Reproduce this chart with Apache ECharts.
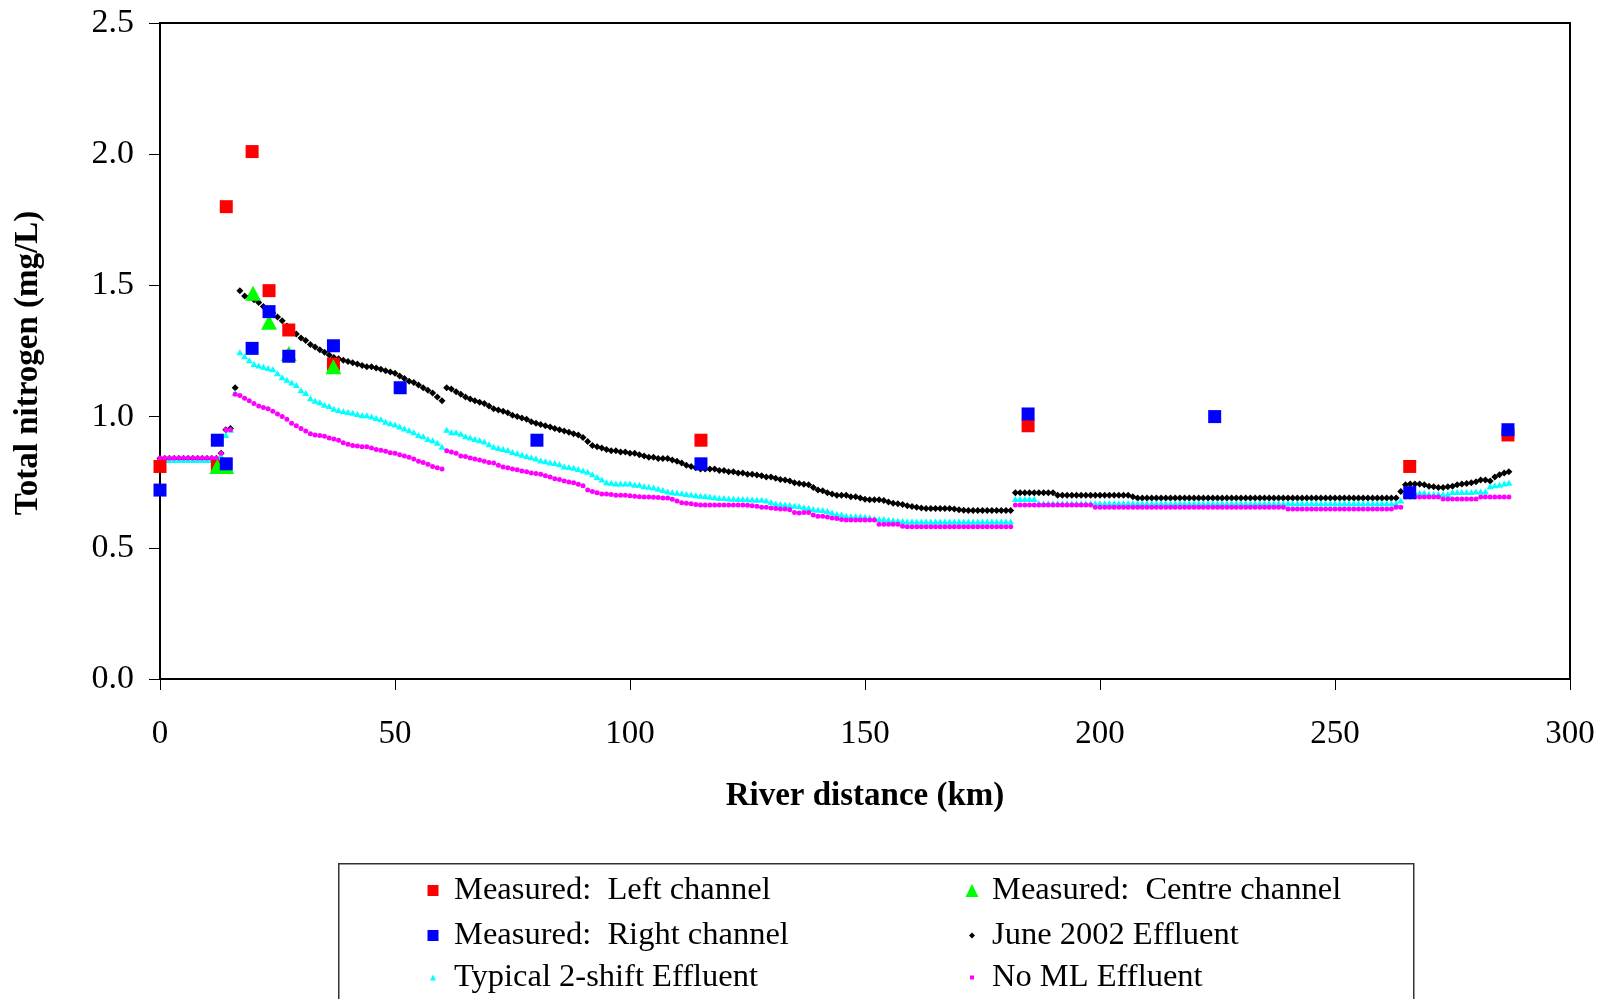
<!DOCTYPE html>
<html>
<head>
<meta charset="utf-8">
<script src="https://cdn.jsdelivr.net/npm/echarts@6/dist/echarts.min.js"></script>
<style>
html,body{margin:0;padding:0;background:#fff;}
#chart{width:1601px;height:999px;}
</style>
</head>
<body>
<div id="chart"></div>
<script>
// ---- Measured data (km, mg/L) ----
const leftKm   = [0, 12.2, 14.1, 19.6, 23.2, 27.4, 36.9, 115.1, 184.7, 265.9, 286.8];
const leftTN   = [0.81, 0.81, 1.80, 2.01, 1.48, 1.33, 1.20, 0.91, 0.965, 0.81, 0.93];
const centreKm = [12.2, 14.1, 19.8, 23.2, 27.4, 36.9];
const centreTN = [0.81, 0.81, 1.47, 1.36, 1.24, 1.19];
const rightKm  = [0, 12.2, 14.1, 19.6, 23.2, 27.4, 36.9, 51.1, 80.2, 115.1, 184.7, 224.4, 265.9, 286.8];
const rightTN  = [0.72, 0.91, 0.82, 1.26, 1.40, 1.23, 1.27, 1.11, 0.91, 0.82, 1.01, 1.00, 0.71, 0.95];

// ---- Model output distances (km) ----
const modelKm = [
0,1,2,3,4,5,6,7,8,9,
10,11,12,13,14,15,16,17,18,19,
20,21,22,23,24,25,26,27,28,29,
30,31,32,33,34,35,36,37,38,39,
40,41,42,43,44,45,46,47,48,49,
50,51,52,53,54,55,56,57,58,59,
60,61,62,63,64,65,66,67,68,69,
70,71,72,73,74,75,76,77,78,79,
80,81,82,83,84,85,86,87,88,89,
90,91,92,93,94,95,96,97,98,99,
100,101,102,103,104,105,106,107,108,109,
110,111,112,113,114,115,116,117,118,119,
120,121,122,123,124,125,126,127,128,129,
130,131,132,133,134,135,136,137,138,139,
140,141,142,143,144,145,146,147,148,149,
150,151,152,153,154,155,156,157,158,159,
160,161,162,163,164,165,166,167,168,169,
170,171,172,173,174,175,176,177,178,179,
180,181,182,183,184,185,186,187,188,189,
190,191,192,193,194,195,196,197,198,199,
200,201,202,203,204,205,206,207,208,209,
210,211,212,213,214,215,216,217,218,219,
220,221,222,223,224,225,226,227,228,229,
230,231,232,233,234,235,236,237,238,239,
240,241,242,243,244,245,246,247,248,249,
250,251,252,253,254,255,256,257,258,259,
260,261,262,263,264,265,266,267,268,269,
270,271,272,273,274,275,276,277,278,279,
280,281,282,283,284,285,286,287
];

// June 2002 Effluent
const june2002 = [
0.84,0.84,0.84,0.84,0.84,0.84,0.84,0.84,0.84,0.84,
0.84,0.84,0.84,0.86,0.95,0.955,1.11,1.48,1.46,1.455,
1.445,1.435,1.42,1.405,1.395,1.38,1.365,1.345,1.33,1.315,
1.30,1.29,1.275,1.265,1.255,1.245,1.235,1.225,1.22,1.215,
1.21,1.205,1.20,1.195,1.19,1.19,1.185,1.18,1.175,1.17,
1.165,1.155,1.145,1.135,1.13,1.12,1.11,1.10,1.09,1.075,
1.06,1.11,1.105,1.095,1.085,1.075,1.067,1.06,1.055,1.05,
1.04,1.03,1.025,1.02,1.015,1.005,1.0,0.995,0.99,0.98,
0.975,0.97,0.965,0.96,0.955,0.95,0.945,0.94,0.935,0.93,
0.92,0.905,0.89,0.885,0.88,0.875,0.87,0.87,0.865,0.865,
0.86,0.86,0.855,0.85,0.845,0.845,0.84,0.84,0.84,0.835,
0.83,0.823,0.815,0.81,0.805,0.80,0.80,0.80,0.80,0.795,
0.795,0.79,0.79,0.785,0.785,0.78,0.78,0.777,0.775,0.77,
0.77,0.765,0.76,0.758,0.755,0.748,0.745,0.742,0.74,0.73,
0.72,0.717,0.71,0.705,0.70,0.70,0.70,0.695,0.695,0.69,
0.685,0.683,0.683,0.683,0.68,0.675,0.67,0.668,0.665,0.66,
0.657,0.655,0.652,0.65,0.65,0.65,0.65,0.65,0.65,0.648,
0.645,0.643,0.642,0.642,0.642,0.642,0.642,0.642,0.642,0.642,
0.642,0.642,0.71,0.71,0.71,0.71,0.71,0.71,0.71,0.71,
0.71,0.70,0.70,0.70,0.70,0.70,0.70,0.70,0.70,0.70,
0.70,0.70,0.70,0.70,0.70,0.70,0.70,0.695,0.69,0.69,
0.69,0.69,0.69,0.69,0.69,0.69,0.69,0.69,0.69,0.69,
0.69,0.69,0.69,0.69,0.69,0.69,0.69,0.69,0.69,0.69,
0.69,0.69,0.69,0.69,0.69,0.69,0.69,0.69,0.69,0.69,
0.69,0.69,0.69,0.69,0.69,0.69,0.69,0.69,0.69,0.69,
0.69,0.69,0.69,0.69,0.69,0.69,0.69,0.69,0.69,0.69,
0.69,0.69,0.69,0.69,0.715,0.74,0.743,0.743,0.743,0.74,
0.735,0.733,0.73,0.73,0.733,0.735,0.74,0.743,0.745,0.748,
0.752,0.758,0.758,0.755,0.77,0.778,0.785,0.79
];

// Typical 2-shift Effluent
const typical2shift = [
0.835,0.835,0.835,0.835,0.835,0.835,0.835,0.835,0.835,0.835,
0.835,0.835,0.835,0.85,0.93,0.95,1.09,1.245,1.23,1.215,
1.20,1.195,1.19,1.185,1.18,1.165,1.15,1.14,1.13,1.12,
1.10,1.09,1.07,1.06,1.055,1.045,1.04,1.03,1.025,1.02,
1.018,1.015,1.01,1.005,1.005,1.0,0.995,0.99,0.98,0.975,
0.97,0.962,0.955,0.948,0.94,0.93,0.925,0.915,0.91,0.90,
0.885,0.95,0.94,0.94,0.935,0.925,0.92,0.915,0.91,0.905,
0.895,0.885,0.88,0.877,0.873,0.865,0.86,0.855,0.85,0.845,
0.84,0.833,0.83,0.825,0.823,0.818,0.81,0.808,0.805,0.80,
0.795,0.79,0.78,0.77,0.76,0.75,0.748,0.745,0.745,0.745,
0.745,0.74,0.74,0.735,0.733,0.73,0.725,0.72,0.715,0.712,
0.71,0.708,0.705,0.703,0.70,0.698,0.697,0.695,0.693,0.69,
0.69,0.688,0.687,0.686,0.686,0.685,0.684,0.683,0.683,0.68,
0.675,0.668,0.667,0.665,0.663,0.66,0.658,0.655,0.652,0.648,
0.645,0.644,0.64,0.635,0.629,0.627,0.622,0.62,0.62,0.62,
0.618,0.615,0.612,0.61,0.61,0.607,0.605,0.603,0.602,0.60,
0.60,0.60,0.60,0.60,0.60,0.60,0.60,0.60,0.60,0.60,
0.60,0.60,0.60,0.60,0.60,0.60,0.60,0.60,0.60,0.60,
0.60,0.60,0.686,0.686,0.686,0.686,0.686,0.67,0.67,0.67,
0.67,0.67,0.67,0.67,0.67,0.67,0.67,0.67,0.67,0.67,
0.67,0.67,0.67,0.67,0.67,0.67,0.67,0.67,0.67,0.67,
0.67,0.67,0.67,0.67,0.67,0.67,0.67,0.67,0.67,0.67,
0.67,0.67,0.67,0.67,0.67,0.67,0.67,0.67,0.67,0.67,
0.67,0.67,0.67,0.67,0.67,0.67,0.67,0.67,0.67,0.67,
0.67,0.67,0.67,0.67,0.67,0.67,0.67,0.67,0.67,0.67,
0.67,0.67,0.67,0.67,0.67,0.67,0.67,0.67,0.67,0.67,
0.67,0.67,0.67,0.67,0.68,0.713,0.71,0.71,0.71,0.71,
0.705,0.705,0.705,0.705,0.705,0.713,0.713,0.713,0.713,0.713,
0.715,0.715,0.715,0.735,0.738,0.74,0.745,0.748
];

// No ML Effluent
const noML = [
0.842,0.842,0.842,0.842,0.842,0.842,0.842,0.842,0.842,0.842,
0.842,0.842,0.842,0.86,0.95,0.95,1.085,1.08,1.07,1.06,
1.05,1.04,1.035,1.03,1.02,1.01,1.0,0.99,0.975,0.965,
0.955,0.945,0.935,0.93,0.928,0.925,0.918,0.915,0.91,0.90,
0.895,0.89,0.888,0.885,0.885,0.88,0.875,0.872,0.868,0.862,
0.86,0.855,0.85,0.845,0.838,0.83,0.825,0.818,0.81,0.805,
0.80,0.87,0.865,0.86,0.85,0.848,0.842,0.838,0.835,0.83,
0.825,0.823,0.815,0.808,0.805,0.80,0.797,0.793,0.79,0.785,
0.783,0.78,0.775,0.77,0.763,0.76,0.755,0.751,0.748,0.742,
0.736,0.72,0.715,0.71,0.705,0.705,0.703,0.70,0.70,0.70,
0.698,0.696,0.695,0.694,0.694,0.693,0.692,0.69,0.69,0.685,
0.678,0.672,0.67,0.668,0.665,0.663,0.663,0.663,0.663,0.663,
0.663,0.663,0.663,0.663,0.663,0.662,0.66,0.658,0.655,0.655,
0.652,0.65,0.648,0.648,0.645,0.635,0.633,0.635,0.635,0.625,
0.62,0.62,0.617,0.614,0.612,0.608,0.606,0.606,0.606,0.606,
0.606,0.606,0.606,0.59,0.59,0.59,0.59,0.59,0.582,0.58,
0.58,0.58,0.58,0.58,0.58,0.58,0.58,0.58,0.58,0.58,
0.58,0.58,0.58,0.58,0.58,0.58,0.58,0.58,0.58,0.58,
0.58,0.58,0.663,0.663,0.663,0.663,0.663,0.663,0.663,0.663,
0.663,0.663,0.663,0.663,0.663,0.663,0.663,0.663,0.663,0.655,
0.655,0.655,0.655,0.655,0.655,0.655,0.655,0.655,0.655,0.655,
0.655,0.655,0.655,0.655,0.655,0.655,0.655,0.655,0.655,0.655,
0.655,0.655,0.655,0.655,0.655,0.655,0.655,0.655,0.655,0.655,
0.655,0.655,0.655,0.655,0.655,0.655,0.655,0.655,0.655,0.655,
0.648,0.648,0.648,0.648,0.648,0.648,0.648,0.648,0.648,0.648,
0.648,0.648,0.648,0.648,0.648,0.648,0.648,0.648,0.648,0.648,
0.648,0.648,0.648,0.655,0.655,0.694,0.694,0.694,0.694,0.694,
0.694,0.694,0.694,0.686,0.686,0.686,0.686,0.686,0.686,0.686,
0.686,0.694,0.694,0.694,0.694,0.694,0.694,0.694
];

const xTicks = [0, 50, 100, 150, 200, 250, 300];
const yTicks = [0.0, 0.5, 1.0, 1.5, 2.0, 2.5];

const NAMES = {
  left: 'Measured:  Left channel',
  centre: 'Measured:  Centre channel',
  right: 'Measured:  Right channel',
  june: 'June 2002 Effluent',
  typical: 'Typical 2-shift Effluent',
  noml: 'No ML Effluent'
};

function pairs(xs, ys) { return xs.map((x, i) => [x, ys[i]]); }

const FONT = '"Liberation Serif", "Times New Roman", serif';
const chart = echarts.init(document.getElementById('chart'), null, {renderer: 'canvas'});

function legendItem(name, icon, w, h, cx, cy, textX) {
  const left = cx - w / 2;
  const pad = textX - (left + w + 5);
  return {
    show: true,
    left: left,
    top: cy - 16,
    padding: 0,
    itemWidth: w,
    itemHeight: h,
    selectedMode: false,
    data: [{name: name, icon: icon, itemStyle: {opacity: 1}}],
    textStyle: {fontFamily: FONT, fontSize: 32.5, color: '#000', padding: [0, 0, 0, pad]}
  };
}

const option = {
  animation: false,
  backgroundColor: '#fff',
  grid: {left: 160, right: 31, top: 23, bottom: 320, show: true, borderColor: '#000', borderWidth: 2, backgroundColor: 'transparent'},
  xAxis: {
    type: 'value', min: xTicks[0], max: xTicks[xTicks.length - 1], interval: 50,
    name: 'River distance (km)', nameLocation: 'middle', nameGap: 101,
    nameTextStyle: {fontFamily: FONT, fontSize: 33, fontWeight: 'bold', color: '#000'},
    axisLine: {show: true, onZero: false, lineStyle: {color: '#000', width: 2}},
    axisTick: {show: true, length: 11, lineStyle: {color: '#000', width: 1}},
    axisLabel: {fontFamily: FONT, fontSize: 33, color: '#000', margin: 39},
    splitLine: {show: false}
  },
  yAxis: {
    type: 'value', min: yTicks[0], max: yTicks[yTicks.length - 1], interval: 0.5,
    name: 'Total nitrogen (mg/L)', nameLocation: 'middle', nameGap: 115,
    nameTextStyle: {fontFamily: FONT, fontSize: 33, fontWeight: 'bold', color: '#000', padding: [0, 24, 0, 0]},
    axisLine: {show: true, onZero: false, lineStyle: {color: '#000', width: 2}},
    axisTick: {show: true, length: 11, lineStyle: {color: '#000', width: 1}},
    axisLabel: {fontFamily: FONT, fontSize: 34, color: '#000', margin: 26, formatter: v => v.toFixed(1)},
    splitLine: {show: false}
  },
  legend: [
    legendItem(NAMES.left, 'rect', 11, 11, 433, 890, 454),
    legendItem(NAMES.right, 'rect', 11, 11, 433, 935, 454),
    legendItem(NAMES.typical, 'triangle', 6, 6, 433, 977, 454),
    legendItem(NAMES.centre, 'triangle', 13, 13, 972, 890, 992),
    legendItem(NAMES.june, 'diamond', 6, 6, 972, 935, 992),
    legendItem(NAMES.noml, 'rect', 4, 4, 972, 977, 992)
  ],
  graphic: [{
    type: 'rect', left: 338, top: 863, z: -1,
    shape: {width: 1075, height: 160},
    style: {fill: '#fff', stroke: '#333', lineWidth: 1.5}
  }],
  series: [
    {name: NAMES.june, type: 'scatter', data: pairs(modelKm, june2002), symbol: 'diamond', symbolSize: 7, itemStyle: {color: '#000', opacity: 1}, z: 2},
    {name: NAMES.typical, type: 'scatter', data: pairs(modelKm, typical2shift), symbol: 'triangle', symbolSize: [7, 6], itemStyle: {color: '#00ffff', opacity: 1}, z: 3},
    {name: NAMES.noml, type: 'scatter', data: pairs(modelKm, noML), symbol: 'circle', symbolSize: 5, itemStyle: {color: '#ff00ff', opacity: 1}, z: 4},
    {name: NAMES.left, type: 'scatter', data: pairs(leftKm, leftTN), symbol: 'rect', symbolSize: 13, itemStyle: {color: '#ff0000', opacity: 1}, z: 5},
    {name: NAMES.centre, type: 'scatter', data: pairs(centreKm, centreTN), symbol: 'triangle', symbolSize: [16, 15], itemStyle: {color: '#00ff00', opacity: 1}, z: 6},
    {name: NAMES.right, type: 'scatter', data: pairs(rightKm, rightTN), symbol: 'rect', symbolSize: 13, itemStyle: {color: '#0000ff', opacity: 1}, z: 7}
  ]
};
chart.setOption(option);
</script>
</body>
</html>
